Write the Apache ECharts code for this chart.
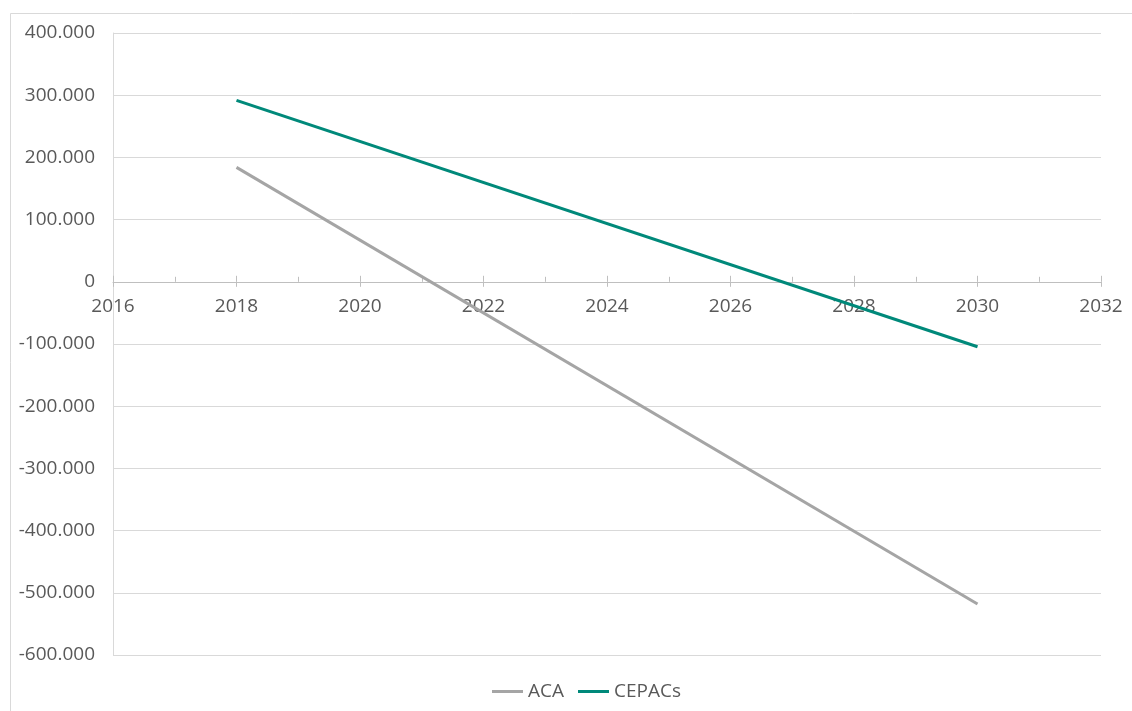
<!DOCTYPE html>
<html>
<head>
<meta charset="utf-8">
<script src="https://cdn.jsdelivr.net/npm/echarts@6/dist/echarts.min.js"></script>
<style>html,body{margin:0;padding:0;background:#fff}#c{width:1132px;height:711px}</style>
</head>
<body>
<div id="c"></div>
<script>
const years = [2018, 2030];
const aca = [184000, -518000];
const cepacs = [291700, -104400];
const seriesNames = ['ACA', 'CEPACs'];

const FONT = '"Open Sans", "Liberation Sans", sans-serif';
const fmt = v => {
  const s = Math.abs(v).toString().replace(/\B(?=(\d{3})+(?!\d))/g, '.');
  return (v < 0 ? '-' : '') + s;
};

const GRID = {left: 113, right: 31, top: 33, bottom: 56};
const Y_MIN = -600000, Y_MAX = 400000;
const plotH = 711 - GRID.top - GRID.bottom;
// move the x axis (line, ticks and labels) up to the y = 0 level
const zeroOffset = -plotH * (0 - Y_MIN) / (Y_MAX - Y_MIN);

const chart = echarts.init(document.getElementById('c'));
chart.setOption({
  animation: false,
  backgroundColor: '#fff',
  graphic: [{
    type: 'rect', shape: {x: 10.5, y: 13.5, width: 1300, height: 900},
    style: {fill: 'none', stroke: '#D9D9D9', lineWidth: 1}, silent: true
  }],
  grid: GRID,
  legend: {
    bottom: 5, left: 487, itemWidth: 31, itemHeight: 3, itemGap: 14,
    icon: 'rect',
    textStyle: {color: '#595959', fontSize: 19, fontFamily: FONT},
    data: seriesNames
  },
  xAxis: [{
    type: 'value', min: 2016, max: 2032, interval: 2, position: 'bottom', offset: zeroOffset,
    axisLine: {show: true, onZero: false, lineStyle: {color: '#BFBFBF', width: 1}},
    axisTick: {show: true, inside: true, length: 6, lineStyle: {color: '#BFBFBF'}},
    minorTick: {show: true, splitNumber: 2, length: 5, lineStyle: {color: '#BFBFBF'}},
    splitLine: {show: false},
    axisLabel: {color: '#595959', fontSize: 19, fontFamily: FONT, margin: 15,
      showMinLabel: true, showMaxLabel: true, formatter: v => String(v)}
  }, {
    type: 'value', min: 2016, max: 2032, interval: 2, position: 'bottom', offset: zeroOffset,
    axisLine: {show: false, onZero: false},
    axisTick: {show: true, inside: false, length: 5, lineStyle: {color: '#BFBFBF'}},
    splitLine: {show: false},
    axisLabel: {show: false}
  }],
  yAxis: {
    type: 'value', min: Y_MIN, max: Y_MAX, interval: 100000,
    axisLine: {show: true, onZero: false, lineStyle: {color: '#D9D9D9'}},
    axisTick: {show: false},
    splitLine: {show: true, lineStyle: {color: '#D9D9D9', width: 1}},
    axisLabel: {color: '#595959', fontSize: 19, fontFamily: FONT, margin: 18, formatter: fmt}
  },
  series: [{
    name: seriesNames[0], type: 'line', symbol: 'none', color: '#A5A5A5',
    lineStyle: {width: 3, color: '#A5A5A5'},
    data: years.map((y, i) => [y, aca[i]])
  }, {
    name: seriesNames[1], type: 'line', symbol: 'none', color: '#00897A',
    lineStyle: {width: 3, color: '#00897A'},
    data: years.map((y, i) => [y, cepacs[i]])
  }]
});
</script>
</body>
</html>
